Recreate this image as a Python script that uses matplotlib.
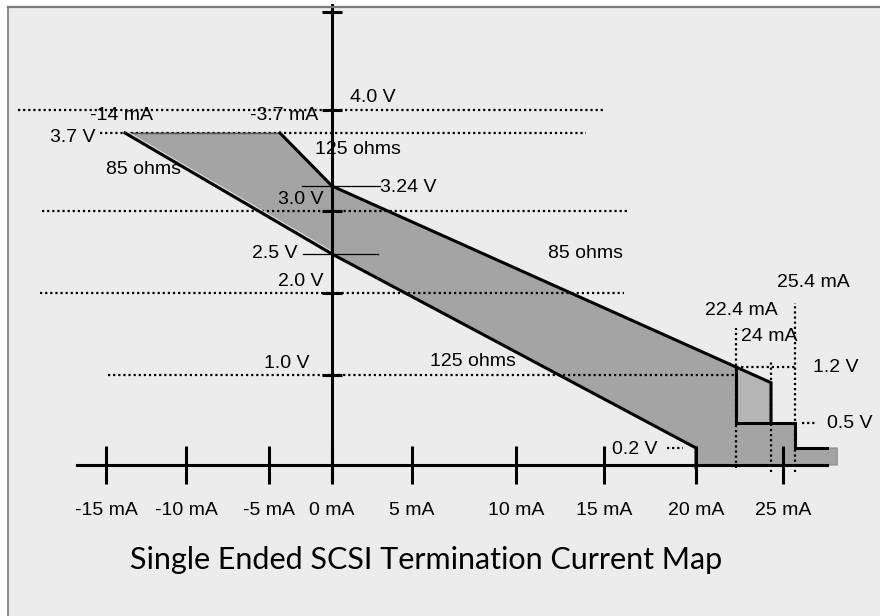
import numpy as np
import matplotlib
matplotlib.use('Agg')
import matplotlib.pyplot as plt
from matplotlib.patches import Rectangle
from matplotlib.lines import Line2D
from matplotlib.transforms import offset_copy

# the original is hand drawn: labelled values do not sit on an even grid,
# so both axes use a piecewise scale calibrated on the drawing
ma_marks = [-25, -15, -14, -10, -5, -3.7, 0, 5, 10, 15, 20, 22.4, 24, 25, 25.4, 35]
ma_pixels = [-54, 106, 125, 186, 269, 280, 332, 412, 516, 604, 696, 736, 771, 783, 795, 957]
volt_marks = [-2, 0, 0.2, 0.5, 1.0, 1.2, 2.0, 2.5, 3.0, 3.24, 3.7, 4.0, 5.0, 7.0]
volt_pixels = [-29, 151, 168, 193, 241, 249, 323, 362, 405, 430, 483, 506, 604, 800]

x_ticks = [-15, -10, -5, 0, 5, 10, 15, 20, 25]
x_tick_labels = ['-15 mA', '-10 mA', '-5 mA', '0 mA', '5 mA', '10 mA', '15 mA', '20 mA', '25 mA']
v_ticks = [1, 2, 3, 4, 5]

# termination envelope (mA, V)
env_ma = [-14, -3.7, 0, 22.4, 22.4, 25.4, 25.4, 27.9, 27.9, 20, 20, 0]
env_v = [3.7, 3.7, 3.24, 1.2, 0.5, 0.5, 0.2, 0.2, 0, 0, 0.2, 2.5]
block_ma = [22.4, 24, 24, 22.4]
block_v = [1.2, 0.92, 0.5, 0.5]

upper_ma = [-3.7, 0, 22.4, 24, 24]
upper_v = [3.7, 3.24, 1.2, 0.92, 0.5]
lower_ma = [-14, 0, 20, 20]
lower_v = [3.7, 2.5, 0.2, -0.03]
step_ma = [22.4, 22.4, 25.4, 25.4, 27.3]
step_v = [1.2, 0.5, 0.5, 0.2, 0.2]

# dotted guides
h_guide_v = [4.0, 3.7, 3.0, 2.0, 1.0, 1.2, 0.5, 0.2]
h_guide_from = [-20.5, -15.4, -19.0, -19.1, -14.9, 22.4, 25.8, 18.4]
h_guide_to = [15.0, 14.0, 16.25, 16.1, 22.4, 25.4, 26.7, 19.3]
v_guide_ma = [22.4, 24, 25.4]
v_guide_lo = [-0.03, -0.08, -0.08]
v_guide_hi = [1.62, 1.28, 1.89]

# short solid markers at 3.24 V and 2.5 V
mark_v = [3.24, 2.5]
mark_from = [-2.1, -2.06]
mark_to = [3.0, 2.9]


def ma_fwd(x):
    return np.interp(x, ma_marks, ma_pixels)


def ma_inv(p):
    return np.interp(p, ma_pixels, ma_marks)


def v_fwd(v):
    return np.interp(v, volt_marks, volt_pixels)


def v_inv(p):
    return np.interp(p, volt_pixels, volt_marks)


fig = plt.figure(figsize=(8.8, 6.16), dpi=100)
fig.patch.set_facecolor('white')
fig.patches.append(Rectangle((8.3 / 880, 0), 1, (616 - 7.3) / 616, transform=fig.transFigure,
                             facecolor='#ececec', edgecolor='none', zorder=-10))
fig.lines.append(Line2D([8.3 / 880, 1], [1 - 7.3 / 616] * 2, transform=fig.transFigure,
                        color='#7a7a7a', lw=1.6))
fig.lines.append(Line2D([8.3 / 880] * 2, [0, 1 - 7.3 / 616], transform=fig.transFigure,
                        color='#7a7a7a', lw=1.2))

ax = fig.add_axes([0, 0, 1, 1])
ax.patch.set_visible(False)
ax.set_xscale('function', functions=(ma_fwd, ma_inv))
ax.set_yscale('function', functions=(v_fwd, v_inv))
ax.set_xlim(ma_inv(0), ma_inv(880))
ax.set_ylim(v_inv(0), v_inv(616))

label_font = dict(family=['Liberation Sans', 'DejaVu Sans'], size=14)

# envelope
ax.fill(env_ma, env_v, facecolor='#a4a4a4', edgecolor='#8a8a8a', lw=0.8, zorder=1)
ax.fill(block_ma, block_v, facecolor='#b5b5b5', edgecolor='none', zorder=1.5)

for v, a, b in zip(h_guide_v, h_guide_from, h_guide_to):
    ax.plot([a, b], [v, v], color='black', lw=1.6, ls=(0, (1, 1.3)), zorder=2)
for m, lo, hi in zip(v_guide_ma, v_guide_lo, v_guide_hi):
    ax.plot([m, m], [lo, hi], color='black', lw=1.6, ls=(0, (1, 1.3)), zorder=2)
for v, a, b in zip(mark_v, mark_from, mark_to):
    ax.plot([a, b], [v, v], color='black', lw=0.9, zorder=2)

ax.plot(env_ma[:2], env_v[:2], color='#555555', lw=0.9, zorder=3)
# faint doubled edge along the left 85 ohm line, as in the scan
ax.plot(lower_ma[:2], lower_v[:2], color='#e6e6e6', lw=0.7, zorder=3,
        transform=offset_copy(ax.transData, fig=fig, x=0, y=2.5, units='dots'))
ax.plot(upper_ma, upper_v, color='black', lw=2.2, zorder=4, solid_joinstyle='miter')
ax.plot(lower_ma, lower_v, color='black', lw=2.2, zorder=4, solid_joinstyle='miter')
ax.plot(step_ma, step_v, color='black', lw=2.2, zorder=4, solid_joinstyle='miter')

# axes through the origin
for side in ['top', 'right']:
    ax.spines[side].set_visible(False)
ax.spines['bottom'].set_position(('data', 0))
ax.spines['left'].set_position(('data', 0))
ax.spines['bottom'].set_bounds(-16.8, 27.3)
ax.spines['left'].set_bounds(-0.19, 5.07)
for side in ['bottom', 'left']:
    ax.spines[side].set_linewidth(2.2)
    ax.spines[side].set_zorder(5)

ax.set_xticks(x_ticks, x_tick_labels)
ax.set_yticks(v_ticks, [''] * len(v_ticks))
ax.tick_params(axis='x', direction='inout', length=27, width=2.2, pad=13, labelsize=14)
ax.tick_params(axis='y', direction='inout', length=15, width=2.2)
for t in ax.get_xticklabels():
    t.set_family(label_font['family'])

notes = [
    ('4.0 V', (0, 4.0), (18, 12), 'left'),
    ('-14 mA', (-14, 3.7), (-4, 18), 'center'),
    ('-3.7 mA', (-3.7, 3.7), (4, 18), 'center'),
    ('3.7 V', (-14, 3.7), (-30, -4), 'right'),
    ('125 ohms', (0, 3.24), (26, 36), 'center'),
    ('85 ohms', (-14, 3.7), (19, -37), 'center'),
    ('3.24 V', (0, 3.24), (48, -2), 'left'),
    ('3.0 V', (0, 3.0), (-8, 11), 'right'),
    ('2.5 V', (0, 2.5), (-34, 0), 'right'),
    ('2.0 V', (0, 2.0), (-8, 11), 'right'),
    ('1.0 V', (0, 1.0), (-23, 12), 'right'),
    ('85 ohms', (0, 3.24), (253, -67), 'center'),
    ('125 ohms', (0, 2.5), (141, -108), 'center'),
    ('25.4 mA', (25.4, 1.89), (18, 21), 'center'),
    ('22.4 mA', (22.4, 1.62), (5, 18), 'center'),
    ('24 mA', (24, 1.28), (-2, 23), 'center'),
    ('1.2 V', (25.4, 1.2), (18, 0), 'left'),
    ('0.5 V', (25.4, 0.5), (32, 0), 'left'),
    ('0.2 V', (15, 0.2), (8, -1), 'left'),
]
for text, xy, off, ha in notes:
    ax.annotate(text, xy, xytext=off, textcoords='offset pixels', ha=ha, va='center',
                zorder=6, **label_font)

fig.text(426.5 / 880, 1 - 560 / 616, 'Single Ended SCSI Termination Current Map',
         ha='center', va='center', family=['Lato', 'DejaVu Sans'], size=22)

fig.savefig('out.png', dpi=100)
